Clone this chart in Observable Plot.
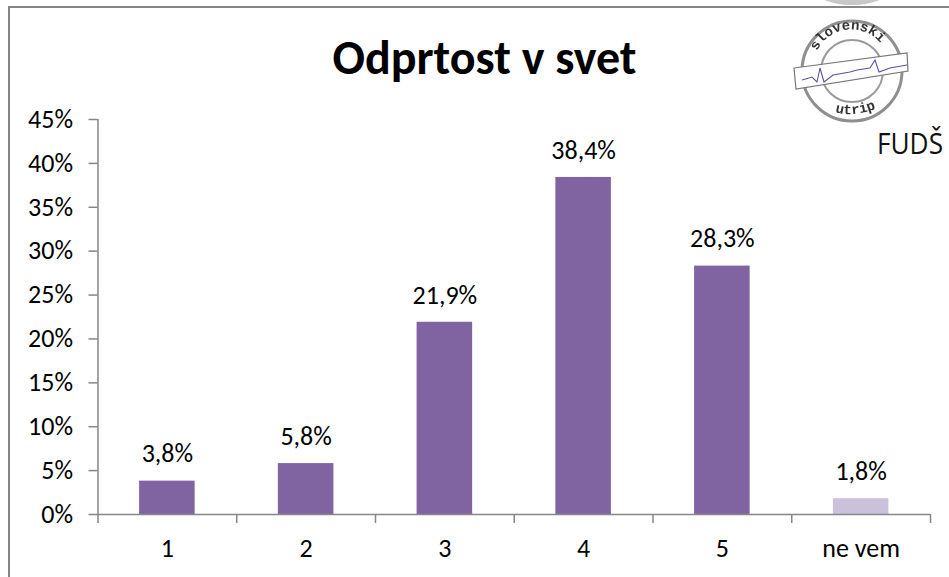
<!DOCTYPE html>
<html><head><meta charset="utf-8">
<script src="https://cdn.jsdelivr.net/npm/d3@7"></script>
<script src="https://cdn.jsdelivr.net/npm/@observablehq/plot@0.6"></script>
<style>
html,body{margin:0;padding:0;background:#fff;width:949px;height:577px;overflow:hidden}
#wrap{position:relative;width:949px;height:577px}
#frame{position:absolute;left:8px;top:6px;right:-5px;bottom:-5px;border:2px solid #868686;box-sizing:border-box}
#title{position:absolute;left:0;top:28px;width:969px;text-align:center;font:bold 48px Carlito,"Open Sans","Liberation Sans",sans-serif;color:#000}
#chart{position:absolute;left:0;top:0}
#logo{position:absolute;left:0;top:0}
</style></head><body>
<div id="wrap"><div id="frame"></div><div id="chart"></div><div id="title">Odprtost v svet</div>
<svg id="logo" width="949" height="577">
<defs><filter id="soft"><feGaussianBlur stdDeviation="0.45"/></filter>
<path id="a1" d="M817,51 A38,38 0 0 1 884,48"/><path id="a2" d="M835,112 Q855,118 880,107"/></defs>
<ellipse cx="852" cy="-6" rx="32" ry="11" fill="#c8c8c8" filter="url(#soft)"/>
<g filter="url(#soft)">
<circle cx="852" cy="71" r="50" fill="none" stroke="#8f8f8f" stroke-width="3"/>
<circle cx="852" cy="71" r="31" fill="none" stroke="#9a9a9a" stroke-width="2"/>
<polygon points="794,68 907,53 908,71 796,89" fill="#fff" stroke="#777" stroke-width="1.2"/>
<polyline points="802,80 812,77 817,82 820,68 824,82 833,75 850,72 857,70 870,68 875,60 879,72 890,68 907,65" fill="none" stroke="#5a52a0" stroke-width="1.1"/>
<text font-family="Liberation Mono" font-weight="bold" font-size="14" fill="#333"><textPath href="#a1">slovenski</textPath></text>
<text font-family="Liberation Mono" font-weight="bold" font-size="14" fill="#333"><textPath href="#a2">utrip</textPath></text>
</g>
<text x="877" y="154" font-family="Open Sans" font-size="29" fill="#111" textLength="66" lengthAdjust="spacingAndGlyphs">FUDŠ</text>
</svg></div>
<script>
const categories=["1","2","3","4","5","ne vem"];
const values=[3.8,5.8,21.9,38.4,28.3,1.8];
const labels=["3,8%","5,8%","21,9%","38,4%","28,3%","1,8%"];
const colors=["#8064a2","#8064a2","#8064a2","#8064a2","#8064a2","#ccc1da"];
const yTicks=[0,5,10,15,20,25,30,35,40,45];
const xEdges=[0,1,2,3,4,5,6];
const rows=categories.map((c,i)=>({i,c,v:values[i],l:labels[i],f:colors[i]}));
const font='Carlito,"Open Sans","Liberation Sans",sans-serif';
const grey="#868686";
const plot=Plot.plot({width:949,height:577,marginLeft:97.5,marginRight:19,marginTop:119,marginBottom:63,
 style:{background:"transparent",fontFamily:font,fontSize:"26px",color:"#000"},
 x:{type:"linear",domain:[0,6],label:null,axis:null},
 y:{type:"linear",domain:[0,45],label:null,axis:null},
 marks:[
  Plot.rectY(rows,{x1:"i",x2:d=>d.i+1,y:"v",fill:d=>d.f,insetLeft:41.6,insetRight:41.6}),
  Plot.ruleY([0],{stroke:grey,strokeWidth:1.5}),
  Plot.ruleX([0],{stroke:grey,strokeWidth:1.5}),
  Plot.axisY(yTicks,{anchor:"left",label:null,tickFormat:d=>d+"%",tickSize:9,tickPadding:16,stroke:grey,strokeWidth:1.5,fontSize:26,color:"#000"}),
  Plot.axisX(xEdges,{anchor:"bottom",label:null,tickSize:9,tickFormat:()=>"",stroke:grey,strokeWidth:1.5}),
  Plot.axisX(rows.map(d=>d.i+0.5),{anchor:"bottom",label:null,tickSize:0,tickPadding:24,fontSize:26,tickFormat:d=>categories[d-0.5]}),
  Plot.text(rows,{x:d=>d.i+0.5,y:"v",text:"l",dy:-27,fontSize:26,fill:"#000"})
 ]});
document.getElementById("chart").append(plot);
</script></body></html>
